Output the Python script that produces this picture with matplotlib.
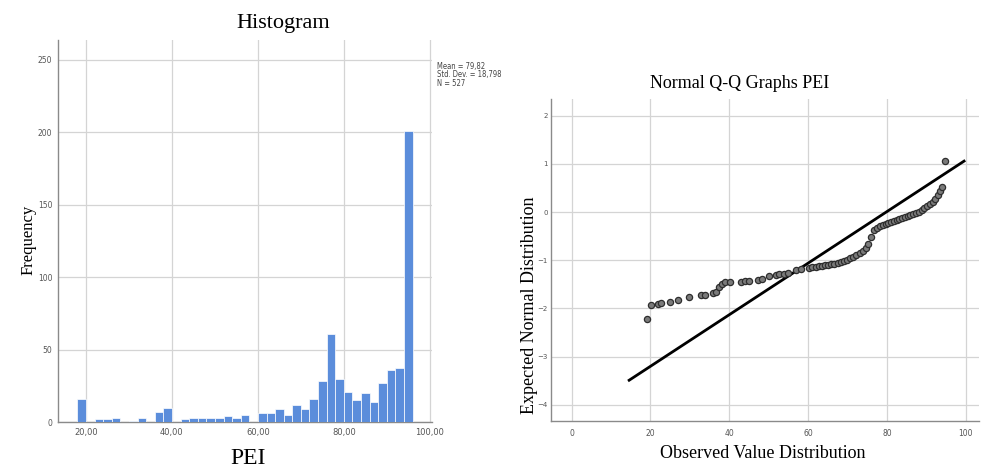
import matplotlib
matplotlib.use("Agg")
import matplotlib.pyplot as plt
import numpy as np

# histogram of PEI: bins of width 2 starting at 18
bin_left = np.arange(18, 96, 2)
counts = [16, 0, 2, 2, 3, 0, 1, 3, 0, 7, 10, 0, 2, 3, 3, 3, 3, 4, 3, 5,
          0, 6, 6, 9, 5, 12, 9, 16, 28, 61, 30, 21, 15, 20, 14, 27, 36, 37, 201]
hist_xticks = [20, 40, 60, 80, 100]
hist_xlabels = ["20,00", "40,00", "60,00", "80,00", "100,00"]
hist_yticks = [0, 50, 100, 150, 200, 250]
stats_lines = ["Mean = 79,82", "Std. Dev. = 18,798", "N = 527"]

# normal Q-Q points (observed value, expected normal value)
qq_x = [19.1, 20.1, 21.9, 22.8, 24.9, 27.0, 29.9, 32.9, 33.9, 36.0, 36.7, 37.5,
        38.1, 39.0, 40.1, 43.0, 43.9, 44.9, 47.2, 48.3, 50.2, 51.9, 52.7, 53.8,
        54.8, 57.0, 58.2,
        60.3, 61.1, 61.9, 62.7, 63.5, 64.3, 65.1, 65.9, 66.7, 67.5, 68.3, 69.1,
        69.9, 70.7, 71.5, 72.3, 73.1, 73.9, 74.7, 75.3, 75.9, 76.8,
        77.6, 78.3, 79.0, 79.7, 80.4, 81.1, 81.8, 82.5, 83.2, 83.9, 84.6, 85.3,
        86.0, 86.7, 87.4, 88.1, 88.8, 89.5, 90.2, 90.9, 91.6, 92.3, 93.0, 93.6,
        94.1, 94.8]
qq_y = [-2.22, -1.93, -1.90, -1.89, -1.87, -1.83, -1.76, -1.73, -1.71, -1.67, -1.65, -1.56,
        -1.50, -1.46, -1.44, -1.44, -1.43, -1.42, -1.40, -1.38, -1.33, -1.31, -1.29, -1.28,
        -1.26, -1.20, -1.18,
        -1.15, -1.14, -1.13, -1.12, -1.11, -1.10, -1.09, -1.08, -1.07, -1.05, -1.03, -1.01,
        -0.99, -0.96, -0.93, -0.89, -0.85, -0.80, -0.74, -0.67, -0.52, -0.38,
        -0.32, -0.29, -0.27, -0.25, -0.23, -0.21, -0.18, -0.16, -0.14, -0.12, -0.10, -0.08,
        -0.06, -0.04, -0.02, 0.01, 0.04, 0.08, 0.12, 0.17, 0.22, 0.28, 0.36, 0.44,
        0.53, 1.07]
line_x = [14.6, 99.6]
line_y = [-3.49, 1.06]
qq_xticks = [0, 20, 40, 60, 80, 100]
qq_yticks = [-4, -3, -2, -1, 0, 1, 2]

serif = "Liberation Serif"
grid_col = "#d4d4d4"
spine_col = "#8a8a8a"
tick_col = "#555555"

fig = plt.figure(figsize=(9.81, 4.70), dpi=100)
fig.patch.set_facecolor("white")

# ---- histogram ----
ax1 = fig.add_axes([0.0591, 0.1021, 0.3813, 0.8128])
ax1.bar(bin_left, counts, width=2, align="edge", color="#5b8ddb",
        edgecolor="white", linewidth=0.5, zorder=3)
ax1.set_xlim(13.5, 100.5)
ax1.set_ylim(0, 263.8)
ax1.set_xticks(hist_xticks, labels=hist_xlabels)
ax1.set_yticks(hist_yticks)
ax1.grid(True, color=grid_col, linewidth=0.9, zorder=0)
ax1.tick_params(axis="x", length=0, labelsize=6, labelcolor=tick_col, pad=4)
ax1.tick_params(axis="y", length=0, labelsize=5.5, labelcolor=tick_col, pad=4)
for s in ["top", "right"]:
    ax1.spines[s].set_visible(False)
for s in ["left", "bottom"]:
    ax1.spines[s].set_color(spine_col)
    ax1.spines[s].set_linewidth(1.0)
for i, line in enumerate(stats_lines):
    fig.text(0.4455, 0.868 - i * 0.018, line, fontsize=5.5, color="#444444",
             ha="left", va="top", fontstretch="condensed")

fig.text(0.2885, 0.951, "Histogram", family=serif, fontsize=16, ha="center", va="center")
fig.text(0.2528, 0.012, "PEI", family=serif, fontsize=17, ha="center", va="baseline")
fig.text(0.029, 0.489, "Frequency", family=serif, fontsize=12, rotation=90,
         ha="center", va="center")

# ---- normal Q-Q ----
ax2 = fig.add_axes([0.5614, 0.1049, 0.4366, 0.6845])
ax2.plot(line_x, line_y, color="black", linewidth=2.0, zorder=3)
ax2.scatter(qq_x, qq_y, s=20, facecolor="#7a7a7a", edgecolor="#2e2e2e",
            linewidth=0.9, zorder=4)
ax2.set_xlim(-5.3, 103.4)
ax2.set_ylim(-4.33, 2.35)
ax2.set_xticks(qq_xticks)
ax2.set_yticks(qq_yticks)
ax2.grid(True, color=grid_col, linewidth=0.9, zorder=0)
ax2.tick_params(axis="x", length=0, labelsize=5.5, labelcolor=tick_col, pad=6)
ax2.tick_params(axis="y", length=0, labelsize=5, labelcolor=tick_col, pad=2)
for s in ["top", "right"]:
    ax2.spines[s].set_visible(False)
for s in ["left", "bottom"]:
    ax2.spines[s].set_color(spine_col)
    ax2.spines[s].set_linewidth(1.0)

fig.text(0.7543, 0.8234, "Normal Q-Q Graphs PEI", family=serif, fontsize=13,
         ha="center", va="center")
fig.text(0.7774, 0.036, "Observed Value Distribution", family=serif, fontsize=13,
         ha="center", va="center")
fig.text(0.5395, 0.351, "Expected Normal Distribution", family=serif, fontsize=13,
         rotation=90, ha="center", va="center")

fig.savefig("out.png", dpi=100, facecolor="white")
